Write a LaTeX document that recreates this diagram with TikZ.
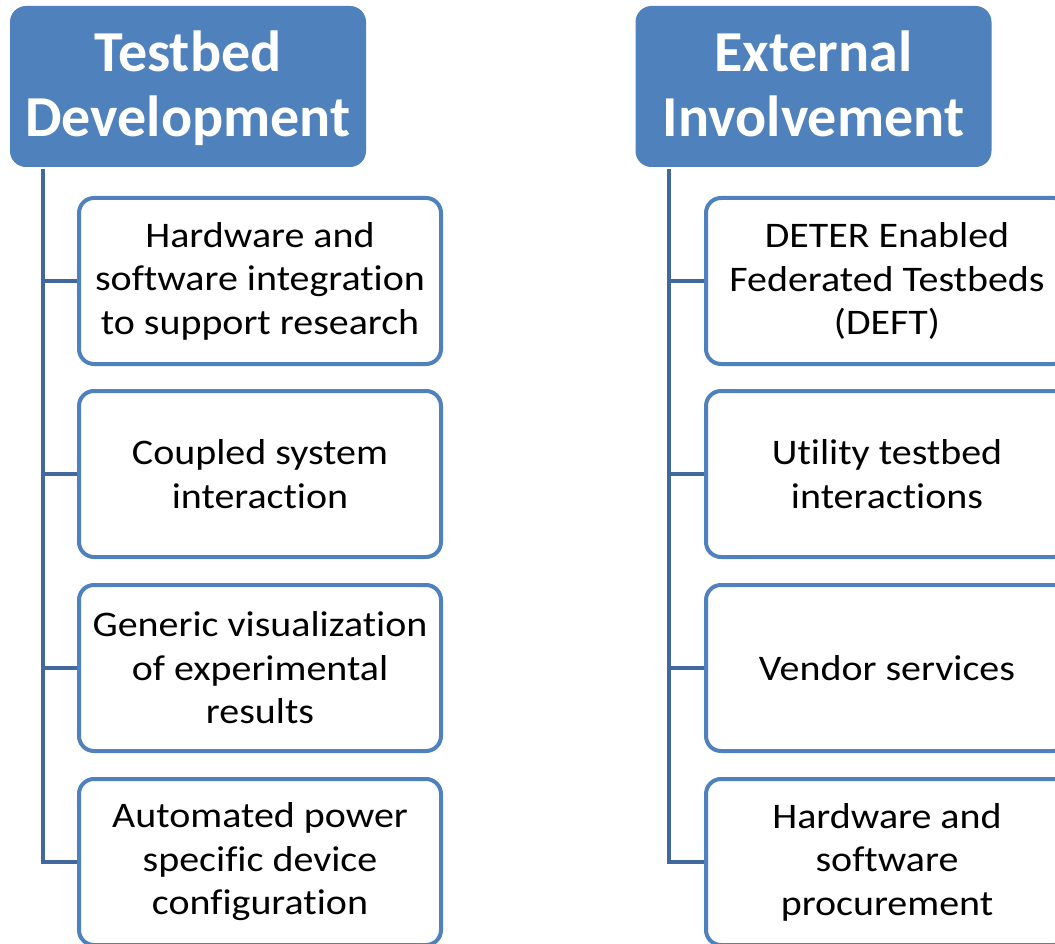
\documentclass[tikz,border=0pt]{standalone}
\usepackage{fontspec}
\setmainfont{Carlito}[Ligatures=NoCommon]
\newfontfamily\itemfont{Carlito}[Ligatures=NoCommon, FakeStretch=1.11]
\definecolor{accent}{HTML}{4F81BD}
\definecolor{linkblue}{HTML}{41699D}
\tikzset{
  header/.style={draw=accent, fill=accent, line width=2pt, rounded corners=15pt,
    minimum width=354pt, minimum height=159pt, inner sep=0pt, align=center,
    text depth=5pt, text=white, font=\fontsize{58}{65}\selectfont\bfseries},
  item/.style={draw=accent, fill=white, line width=4pt, rounded corners=15pt,
    minimum width=362pt, minimum height=166pt, inner sep=0pt, align=center,
    text=black, font=\itemfont\fontsize{36}{43.5}\selectfont},
  conn/.style={draw=linkblue, line width=4.5pt}
}
\begin{document}
\begin{tikzpicture}[x=1pt,y=-1pt]
\useasboundingbox (0,0) rectangle (1055,944);
\clip (0,0) rectangle (1055,944);

% left column
\node[header] (h1) at (188,86.5) {Testbed\\Development};
\coordinate (t1) at (43,169);
\node[item] (a1) at (260,281) {Hardware and\\software integration\\to support research};
\node[item] (a2) at (260,474) {Coupled system\\interaction};
\node[item] (a3) at (260,668) {Generic visualization\\of experimental\\results};
\node[item] (a4) at (260,862) {Automated power\\specific device\\configuration};
\draw[conn] (t1) |- (a4.west);
\foreach \n in {a1,a2,a3} \draw[conn] (t1 |- \n.west) -- (\n.west);

% right column
\node[header] (h2) at (813.5,86.5) {External\\Involvement};
\coordinate (t2) at (669,169);
\node[item] (b1) at (887,281) {DETER Enabled\\Federated Testbeds\\(DEFT)};
\node[item] (b2) at (887,474) {Utility testbed\\interactions};
\node[item] (b3) at (887,668) {Vendor services};
\node[item] (b4) at (887,862) {Hardware and\\software\\procurement};
\draw[conn] (t2) |- (b4.west);
\foreach \n in {b1,b2,b3} \draw[conn] (t2 |- \n.west) -- (\n.west);
\end{tikzpicture}
\end{document}
